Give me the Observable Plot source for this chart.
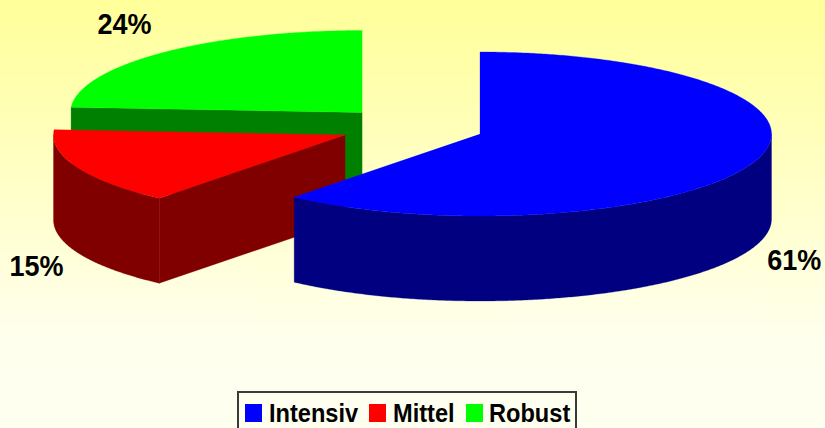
<!DOCTYPE html>
<html>
<head>
<meta charset="utf-8">
<script src="https://cdn.jsdelivr.net/npm/d3@7"></script>
<script src="https://cdn.jsdelivr.net/npm/@observablehq/plot@0.6"></script>
<style>
html,body{margin:0;padding:0;width:825px;height:428px;overflow:hidden;
  background:linear-gradient(180deg,#ffff99 0%,#ffffee 80%,#fffff0 100%);}
#chart{position:absolute;left:0;top:0;}
#legend{position:absolute;left:237px;top:391px;width:340px;height:44px;box-sizing:border-box;
  border:2px solid #3a3a3a;font:bold 25.5px "Liberation Sans",Arial,sans-serif;color:#000;}
#legend span{position:absolute;top:7px;white-space:nowrap;line-height:27px;transform:scaleX(.925);transform-origin:0 50%;}
#legend i{position:absolute;top:11px;width:17px;height:18px;display:block;}
</style>
</head>
<body>
<div id="chart"></div>
<div id="legend"></div>
<script>
// Data
const categories = ["Intensiv", "Mittel", "Robust"];
const shares = [61, 15, 24];
const labels = ["61%", "15%", "24%"];
// Styles
const topColors = ["#0000ff", "#ff0000", "#00ff00"];
const sideColors = ["#000080", "#800000", "#008000"];
// Pie projection, in pixel-valued data space
const width = 825, height = 390;
const rx = 291.5, ry = 82, depth = 85;
const apexX = [479.5, 344.5, 361.5];
const apexY = [133.5, 134.5, 112];
const labelDX = [40, -41, -38];
const labelDY = [14, 14, -28];
const labelOnBase = [true, true, false];

const total = d3.sum(shares);
const rad = d => d * Math.PI / 180;
let acc = 0;
const slices = categories.map((name, i) => {
  const a0 = acc / total * 360;
  acc += shares[i];
  const a1 = acc / total * 360;
  return {name, i, a0, a1, cx: apexX[i], cy: apexY[i]};
});
const rim = (s, a, dy = 0) => ({
  x: s.cx + rx * Math.sin(rad(a)),
  y: s.cy - ry * Math.cos(rad(a)) + dy
});
const arc = (s, a0, a1, dy = 0) => {
  const n = Math.max(2, Math.ceil(Math.abs(a1 - a0) * 2));
  return d3.range(n + 1).map(k => rim(s, a0 + (a1 - a0) * k / n, dy));
};
const faces = [];
const add = (id, color, pts) => pts.forEach(p => faces.push({...p, id, color}));
const center = (s, dy = 0) => ({x: s.cx, y: s.cy + dy});

// Painter's order: back slice first
for (const i of [2, 1, 0]) {
  const s = slices[i];
  const side = sideColors[i], top = topColors[i];
  // Cut wall that faces the viewer
  const wallAngle = i === 0 ? null : s.a0;
  if (wallAngle !== null) {
    add(`${i}-wall`, side, [center(s), rim(s, wallAngle), rim(s, wallAngle, depth), center(s, depth)]);
  }
  // Outer rim: only the front half (90..270 degrees) is visible
  const from = Math.max(s.a0, 90), to = Math.min(s.a1, 270);
  if (to > from) {
    add(`${i}-rim`, side, [...arc(s, from, to), ...arc(s, to, from, depth)]);
  }
  // Top face
  add(`${i}-top`, top, [center(s), ...arc(s, s.a0, s.a1)]);
}

const labelRows = slices.map((s, i) => {
  const p = rim(s, (s.a0 + s.a1) / 2, labelOnBase[i] ? depth : 0);
  return {x: p.x + labelDX[i], y: p.y + labelDY[i], text: labels[i]};
});

const chart = Plot.plot({
  width, height,
  margin: 0,
  x: {domain: [0, width], range: [0, width], axis: null},
  y: {domain: [0, height], range: [0, height], axis: null},
  color: {type: "identity"},
  style: {background: "transparent", display: "block"},
  marks: [
    Plot.line(faces, {x: "x", y: "y", z: "id", fill: "color", stroke: "color", strokeWidth: 0.3, curve: "linear-closed"}),
    Plot.text(labelRows, {x: "x", y: "y", text: "text", fontSize: 29, fontWeight: "bold",
      fontFamily: "'Liberation Sans', Arial, sans-serif", fill: "#000"})
  ]
});
// Reference type is slightly condensed
chart.querySelectorAll("text").forEach(t => {
  t.setAttribute("textLength", 54);
  t.setAttribute("lengthAdjust", "spacingAndGlyphs");
});
document.getElementById("chart").appendChild(chart);

// Legend, below the SVG
const legend = document.getElementById("legend");
const swatchLeft = [6, 130, 227];
const textLeft = [30, 154, 250];
categories.forEach((c, i) => {
  const sw = document.createElement("i");
  sw.style.left = swatchLeft[i] + "px";
  sw.style.background = topColors[i];
  legend.appendChild(sw);
  const t = document.createElement("span");
  t.style.left = textLeft[i] + "px";
  t.textContent = c;
  legend.appendChild(t);
});
</script>
</body>
</html>
